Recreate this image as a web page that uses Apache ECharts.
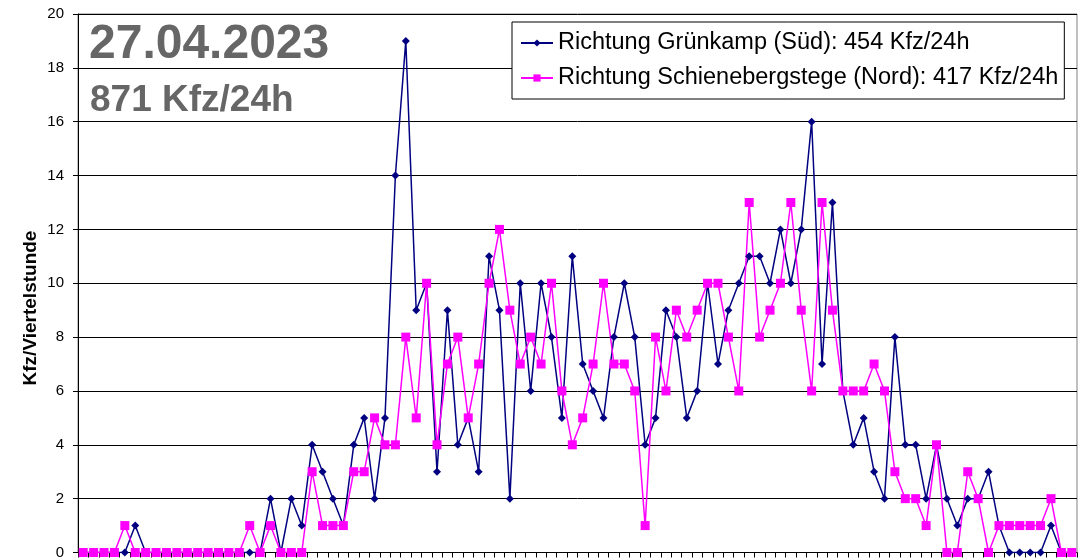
<!DOCTYPE html>
<html>
<head>
<meta charset="utf-8">
<script src="https://cdn.jsdelivr.net/npm/echarts@6/dist/echarts.min.js"></script>
<style>
    html, body { margin: 0; padding: 0; background: #fff; }
    #chart { width: 1083px; height: 560px; }
</style>
</head>
<body>
<div id="chart"></div>
<script>
// Tagesdaten, Viertelstundenwerte 00:00 - 23:45
var datum = '27.04.2023';
var gesamt = '871 Kfz/24h';
var achsenName = 'Kfz/Viertelstunde';
var namen = ['Richtung Grünkamp (Süd): 454 Kfz/24h', 'Richtung Schienebergstege (Nord): 417 Kfz/24h'];

var sued = [
    0, 0, 0, 0, 0, 1, 0, 0, 0, 0, 0, 0, 0, 0, 0, 0,
    0, 0, 2, 0, 2, 1, 4, 3, 2, 1, 4, 5, 2, 5, 14, 19,
    9, 10, 3, 9, 4, 5, 3, 11, 9, 2, 10, 6, 10, 8, 5, 11,
    7, 6, 5, 8, 10, 8, 4, 5, 9, 8, 5, 6, 10, 7, 9, 10,
    11, 11, 10, 12, 10, 12, 16, 7, 13, 6, 4, 5, 3, 2, 8, 4,
    4, 2, 4, 2, 1, 2, 2, 3, 1, 0, 0, 0, 0, 1, 0, 0
];
var nord = [
    0, 0, 0, 0, 1, 0, 0, 0, 0, 0, 0, 0, 0, 0, 0, 0,
    1, 0, 1, 0, 0, 0, 3, 1, 1, 1, 3, 3, 5, 4, 4, 8,
    5, 10, 4, 7, 8, 5, 7, 10, 12, 9, 7, 8, 7, 10, 6, 4,
    5, 7, 10, 7, 7, 6, 1, 8, 6, 9, 8, 9, 10, 10, 8, 6,
    13, 8, 9, 10, 13, 9, 6, 13, 9, 6, 6, 6, 7, 6, 3, 2,
    2, 1, 4, 0, 0, 3, 2, 0, 1, 1, 1, 1, 1, 2, 0, 0
];
var yMin = 0, yMax = 20, yStep = 2;

// Kategorien = Uhrzeiten
var zeiten = [];
for (var h = 0; h < 24; h++) {
    for (var m = 0; m < 60; m += 15) {
        zeiten.push((h < 10 ? '0' : '') + h + ':' + (m < 10 ? '0' : '') + m);
    }
}

var dom = document.getElementById('chart');
var chart = echarts.init(dom);
var schrift = '"Liberation Sans", Arial, sans-serif';

var option = {
    animation: false,
    backgroundColor: '#fff',
    textStyle: { fontFamily: schrift },
    grid: {
        left: 78, right: 6, top: 14, bottom: 7,
        show: true,
        borderColor: '#808080',
        borderWidth: 1
    },
    legend: {
        orient: 'vertical',
        left: 512, top: 22,
        padding: [9, 6, 9, 8],
        itemGap: 11,
        itemWidth: 32,
        itemHeight: 9,
        backgroundColor: '#fff',
        borderColor: '#000',
        borderWidth: 1,
        borderRadius: 0,
        textStyle: { fontFamily: schrift, fontSize: 23.5, color: '#000' },
        data: namen
    },
    graphic: [
        {
            type: 'text', left: 89, top: 21,
            style: { text: datum, font: 'bold 48px ' + schrift, fill: '#666' }
        },
        {
            type: 'text', left: 90, top: 82,
            style: { text: gesamt, font: 'bold 37px ' + schrift, fill: '#666' }
        },
        {
            type: 'text', x: 31, y: 308, rotation: Math.PI / 2,
            style: {
                text: achsenName, font: 'bold 19px ' + schrift, fill: '#000',
                align: 'center', verticalAlign: 'middle'
            }
        }
    ],
    xAxis: {
        type: 'category',
        data: zeiten,
        boundaryGap: true,
        axisLine: { lineStyle: { color: '#000', width: 1 } },
        axisTick: { show: true, interval: 0, length: 5, lineStyle: { color: '#000' } },
        axisLabel: { show: false },
        splitLine: { show: false }
    },
    yAxis: {
        type: 'value',
        min: yMin, max: yMax, interval: yStep,
        axisLine: { show: true, lineStyle: { color: '#000', width: 1 } },
        axisTick: { show: true, length: 5, lineStyle: { color: '#000' } },
        axisLabel: { fontFamily: schrift, fontSize: 15, color: '#000', margin: 14 },
        splitLine: { show: true, lineStyle: { color: '#000', width: 1 } }
    },
    series: [
        {
            name: namen[0],
            type: 'line',
            data: sued,
            showSymbol: true,
            showAllSymbol: true,
            symbol: 'diamond',
            symbolSize: 8,
            color: '#000080',
            lineStyle: { color: '#000080', width: 1.5 },
            itemStyle: { color: '#000080' }
        },
        {
            name: namen[1],
            type: 'line',
            data: nord,
            showSymbol: true,
            showAllSymbol: true,
            symbol: 'rect',
            symbolSize: 9,
            color: '#ff00ff',
            lineStyle: { color: '#ff00ff', width: 1.5 },
            itemStyle: { color: '#ff00ff' }
        }
    ]
};

if (option && typeof option === 'object') {
    chart.setOption(option);
}

window.addEventListener('resize', function () {
    chart.resize();
});
</script>
</body>
</html>
